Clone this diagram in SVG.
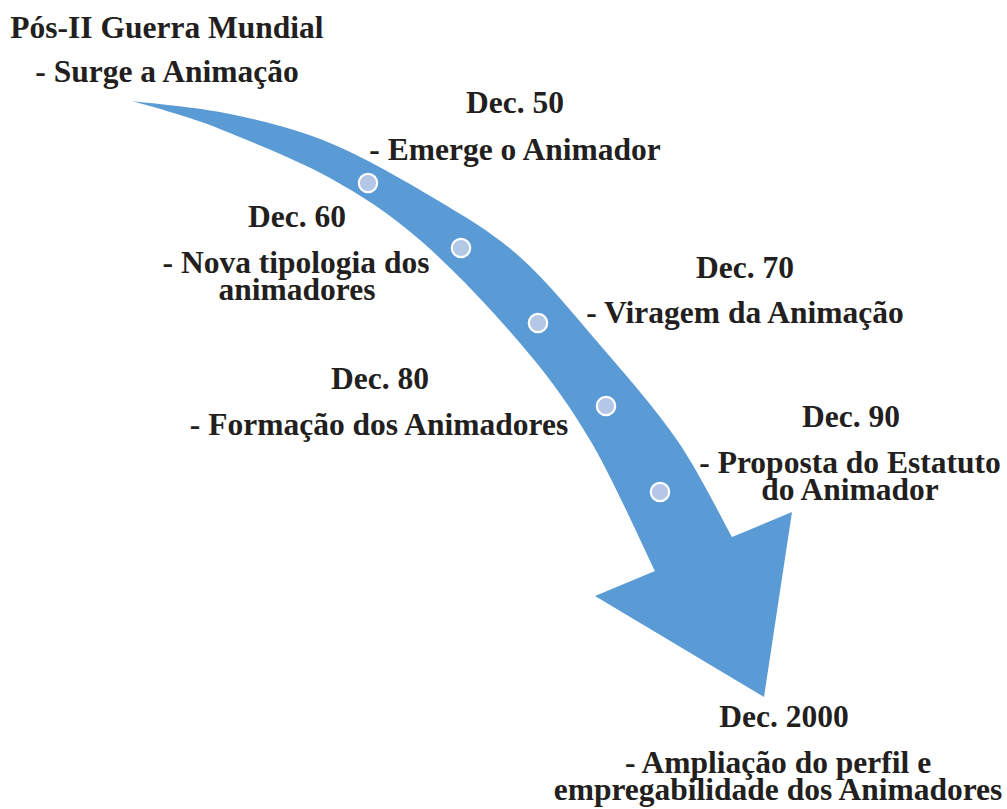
<svg xmlns="http://www.w3.org/2000/svg" width="1007" height="809" viewBox="0 0 1007 809">
<style>
.t{font-family:"Liberation Serif","Times New Roman",serif;font-weight:bold;font-size:31.5px;fill:#231f20;text-anchor:middle}
.dot{fill:#b4c7e7;stroke:#ffffff;stroke-width:2.2}
</style>
<rect width="1007" height="809" fill="#ffffff"/>
<g id="connectors">
<path id="arrow" fill="#5b9bd5" d="M132,101 C148.3,103.2 197,107 230,114 C263,121 295.5,128.7 330,143 C364.5,157.3 405.3,181 437,200 C468.7,219 492.8,232.8 520,257 C547.2,281.2 573.8,314.5 600,345 C626.2,375.5 655,408 677,440 C699,472 722.8,520.8 732,537 L792,512 L764,697 L595,596 L655,571 C644.2,549.2 612.5,478 590,440 C567.5,402 548.3,376.3 520,343 C491.7,309.7 451.7,267.5 420,240 C388.3,212.5 361.7,195.8 330,178 C298.3,160.2 255,143.5 230,133 C205,122.5 196.3,120.3 180,115 C163.7,109.7 140,103.3 132,101 Z"/>
</g>
<g id="n0"><text class="t" x="167" y="38">Pós-II Guerra Mundial</text><text class="t" x="167" y="82">- Surge a Animação</text></g>
<g id="n1"><circle class="dot" cx="368" cy="183" r="9.2"/><text class="t" x="515" y="113">Dec. 50</text><text class="t" x="515" y="160">- Emerge o Animador</text></g>
<g id="n2"><circle class="dot" cx="461" cy="248" r="9.2"/><text class="t" x="297" y="227">Dec. 60</text><text class="t" x="296" y="273">- Nova tipologia dos</text><text class="t" x="297" y="300">animadores</text></g>
<g id="n3"><circle class="dot" cx="538" cy="323" r="9.2"/><text class="t" x="745" y="278">Dec. 70</text><text class="t" x="745" y="323">- Viragem da Animação</text></g>
<g id="n4"><circle class="dot" cx="606" cy="406" r="9.2"/><text class="t" x="380" y="389">Dec. 80</text><text class="t" x="379" y="435">- Formação dos Animadores</text></g>
<g id="n5"><circle class="dot" cx="660" cy="492" r="9.2"/><text class="t" x="851" y="427">Dec. 90</text><text class="t" x="850" y="473">- Proposta do Estatuto</text><text class="t" x="850" y="500">do Animador</text></g>
<g id="n6"><text class="t" x="784" y="727">Dec. 2000</text><text class="t" x="778" y="773">- Ampliação do perfil e</text><text class="t" x="778" y="800">empregabilidade dos Animadores</text></g>
</svg>
